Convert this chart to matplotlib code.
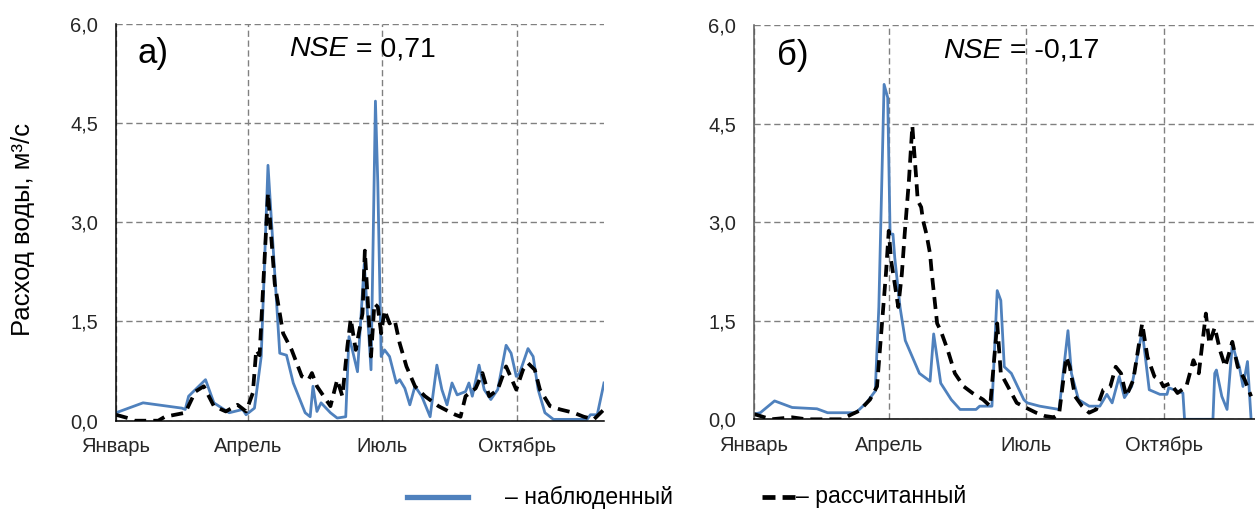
import matplotlib
matplotlib.use("Agg")
import matplotlib.pyplot as plt
from matplotlib.lines import Line2D

plt.rcParams['font.family'] = ['Liberation Sans', 'DejaVu Sans']

# ---- data (day of year, discharge m3/s) ----
obs_a_day = [0, 18.4, 44.8, 47.1, 49.4, 60.9, 66.6, 77, 86.2, 88.5, 94.2, 98.8, 103.4, 111.4, 116,
             120.6, 128.7, 132.1, 134, 136.7, 139.5, 145.9, 150.5, 156.3, 158.5, 160.8, 164.3, 168.9,
             173.5, 176.5, 178.1, 180.4, 182.7, 186.1, 190.7, 193, 196.5, 199.9, 203.4, 208, 213.7,
             218.3, 221.7, 225.2, 228.6, 232.1, 237.8, 240.1, 242.4, 247, 250.5, 255, 259.7, 265.4,
             268.8, 272.3, 274.6, 280.3, 283.8, 287.2, 291.8, 297.6, 320.5, 322.8, 327.4, 332]
obs_a_val = [0.12, 0.27, 0.19, 0.17, 0.37, 0.62, 0.27, 0.12, 0.17, 0.09, 0.19, 0.97, 3.86, 1.02, 0.99,
             0.57, 0.12, 0.06, 0.52, 0.14, 0.27, 0.12, 0.04, 0.06, 1.27, 1.07, 0.74, 2.37,
             0.77, 4.83, 3.6, 0.97, 1.07, 0.97, 0.57, 0.62, 0.49, 0.24, 0.52, 0.37, 0.06,
             0.84, 0.47, 0.24, 0.57, 0.39, 0.44, 0.57, 0.37, 0.84, 0.47, 0.32, 0.47, 1.14,
             1.02, 0.67, 0.72, 1.09, 0.97, 0.47, 0.12, 0.02, 0.02, 0.09, 0.09, 0.57]

sim_a_day = [0, 8, 12.6, 28.7, 33.3, 47.1, 54, 59.7, 66.6, 74.7, 82.7, 88.5, 93.1, 95.4, 97.7, 103.4,
             108, 113.7, 119.5, 126.4, 131, 133.3, 136.7, 145.9, 150.5, 154, 157.4, 159.7, 163.1,
             167.7, 169.3, 173.5, 175.8, 178.1, 180.4, 182.7, 186.1, 189.6, 193, 197.6, 203.4,
             210.2, 219.4, 226.3, 230.9, 234.4, 237.8, 244.7, 249.3, 253.9, 259.7, 265.4, 272.3,
             276.9, 280.3, 284.9, 288.4, 295.3, 302.2, 311.4, 318.2, 325.1, 332]
sim_a_val = [0.09, 0.04, 0.0, 0.0, 0.06, 0.12, 0.44, 0.52, 0.22, 0.14, 0.24, 0.14, 0.42, 1.07, 0.99, 3.44,
             2.07, 1.32, 1.07, 0.67, 0.62, 0.72, 0.52, 0.22, 0.62, 0.37, 1.12, 1.54, 1.07,
             1.62, 2.57, 0.97, 1.77, 1.72, 1.32, 1.67, 1.47, 1.52, 1.17, 0.82, 0.52,
             0.37, 0.22, 0.14, 0.09, 0.06, 0.37, 0.49, 0.72, 0.37, 0.47, 0.82, 0.47,
             0.77, 0.87, 0.77, 0.47, 0.22, 0.17, 0.12, 0.06, 0.02, 0.17]

obs_b_day = [0, 4.2, 13.7, 25.4, 41.9, 49, 67.8, 74.8, 80.7, 83.1, 86.6, 89, 90.6, 92.5, 93.7, 97.2,
             100.7, 105.4, 110.1, 117.2, 119.6, 124.3, 131.3, 137.2, 147.8, 150.2, 158.4, 161.9,
             164.3, 166.6, 171.3, 179.6, 181.9, 190.2, 203.1, 209, 211.3, 216, 223.1, 230.2,
             234.9, 238.4, 243.1, 246.6, 251.4, 258.4, 263.1, 270.2, 274.9, 276.1, 285.5, 286.6,
             305.5, 306.7, 307.8, 311.4, 314.9, 318.4, 320.8, 323.1, 325.5, 328.5, 330.9]
obs_b_val = [0.08, 0.10, 0.28, 0.18, 0.16, 0.10, 0.10, 0.25, 0.43, 1.71, 5.10, 4.90, 2.82, 2.82, 2.46, 1.71,
             1.20, 0.95, 0.70, 0.58, 1.30, 0.55, 0.30, 0.15, 0.15, 0.20, 0.20, 1.96,
             1.81, 0.80, 0.70, 0.30, 0.25, 0.20, 0.15, 1.35, 0.70, 0.30, 0.20, 0.20,
             0.38, 0.25, 0.65, 0.33, 0.50, 1.35, 0.45, 0.38, 0.38, 0.48, 0.40, 0.0,
             0.0, 0.70, 0.75, 0.35, 0.15, 1.15, 0.95, 0.80, 0.50, 0.88, 0.0]

sim_b_day = [0, 4.2, 11.3, 25.4, 34.8, 44.2, 58.4, 65.4, 70.1, 77.2, 81.9, 84.3, 87.8, 89.7, 91.3, 93.7,
             96, 98.4, 100.3, 103.1, 105.4, 106.6, 107.8, 109, 111.3, 112.5, 114.8, 117.2, 118.4,
             121.9, 124.3, 129, 133.7, 139.6, 145.4, 152.5, 157.2, 161.9, 164.3, 169, 174.9,
             180.7, 187.8, 193.7, 199.6, 203.1, 207.8, 210.2, 213.7, 218.4, 223.1, 227.8, 232.5,
             237.2, 240.8, 244.3, 247.8, 252.5, 258.4, 261.9, 266.6, 270.2, 272.5, 277.2, 281.9,
             287.8, 292.5, 296.1, 300.8, 303.1, 306.7, 310.2, 313.7, 318.4, 322, 326.7, 330.9]
sim_b_val = [0.08, 0.05, 0.0, 0.03, 0.0, 0.0, 0.0, 0.08, 0.13, 0.30, 0.50, 1.20, 2.21, 2.87, 2.41, 2.06,
             1.71, 2.21, 2.82, 3.63, 4.47, 4.09, 3.73, 3.33, 3.23, 3.03, 2.82, 2.52, 2.21,
             1.46, 1.35, 1.05, 0.70, 0.50, 0.40, 0.30, 0.20, 1.46, 0.70, 0.50, 0.25,
             0.18, 0.10, 0.05, 0.03, 0.08, 0.95, 0.80, 0.35, 0.20, 0.10, 0.15, 0.45,
             0.50, 0.80, 0.70, 0.35, 0.60, 1.46, 0.95, 0.65, 0.60, 0.50, 0.55, 0.40,
             0.50, 0.90, 0.70, 1.61, 1.15, 1.40, 1.05, 0.80, 1.18, 0.80, 0.60, 0.35]

month_ticks = [0, 90, 181, 273]
month_labels = ['Январь', 'Апрель', 'Июль', 'Октябрь']
y_ticks = [0.0, 1.5, 3.0, 4.5, 6.0]
y_labels = ['0,0', '1,5', '3,0', '4,5', '6,0']
panel_labels = ['а)', 'б)']
nse_values = ['0,71', '-0,17']
legend_labels = ['– наблюденный', '– рассчитанный']

W, H = 1255, 513
fig = plt.figure(figsize=(W / 100, H / 100), dpi=100)

BLUE = '#4F81BD'
GRID = '#808080'
TXT = '#262626'

axes_px = [(116, 420.7, 488, 397, 332), (754, 419.3, 501, 394, 333.5)]
data = [(obs_a_day, obs_a_val, sim_a_day, sim_a_val), (obs_b_day, obs_b_val, sim_b_day, sim_b_val)]
left_spine_colors = ['#000000', '#595959']
nse_x = [0.355, 0.377]
lab_x = [0.045, 0.046]

for i, ((x0, yb, w, h, xmax), (od, ov, sd, sv)) in enumerate(zip(axes_px, data)):
    ax = fig.add_axes([x0 / W, (H - yb) / H, w / W, h / H])
    ax.plot(od, ov, color=BLUE, lw=2.0, zorder=3, solid_joinstyle='round')
    ax.plot(sd, sv, color='black', lw=2.7, linestyle=(0, (3.2, 1.9)), zorder=4)
    ax.set_xlim(0, xmax)
    ax.set_ylim(0, 6)
    ax.set_yticks(y_ticks)
    ax.set_yticklabels(y_labels)
    ax.set_xticks(month_ticks)
    ax.set_xticklabels(month_labels)
    ax.tick_params(length=0, labelsize=14.5, colors=TXT)
    ax.tick_params(axis='y', pad=13)
    ax.tick_params(axis='x', pad=12)
    ax.grid(True, color=GRID, lw=1.0, linestyle=(0, (4.5, 2.6)), zorder=1)
    for s in ['top', 'right']:
        ax.spines[s].set_visible(False)
    ax.spines['left'].set_color(left_spine_colors[i])
    ax.spines['left'].set_linewidth(1.1)
    ax.spines['bottom'].set_color('black')
    ax.spines['bottom'].set_linewidth(1.1)
    ax.spines['left'].set_zorder(5)
    ax.spines['bottom'].set_zorder(5)
    ax.set_axisbelow(True)

    t1 = ax.text(nse_x[i], 0.918, 'NSE', transform=ax.transAxes, fontsize=20.5,
                 style='italic', ha='left', va='baseline', zorder=6)
    ax.annotate(' = ' + nse_values[i], xy=(1, 0), xycoords=t1, fontsize=20.5,
                ha='left', va='bottom', zorder=6)
    ax.text(lab_x[i], 0.90, panel_labels[i], transform=ax.transAxes, fontsize=25,
            ha='left', va='baseline', zorder=6)

fig.text(23 / W, 1 - 229 / H, 'Расход воды, м³/с', rotation=90, fontsize=18.5,
         ha='center', va='center')

# legend
ly = 1 - 497 / H
fig.add_artist(Line2D([407 / W, 468 / W], [ly, ly], transform=fig.transFigure,
                      color=BLUE, lw=3.8))
fig.text(505 / W, ly, legend_labels[0], fontsize=16.5, ha='left', va='center')
fig.add_artist(Line2D([762 / W, 795 / W], [ly, ly], transform=fig.transFigure,
                      color='black', lw=3.4, linestyle=(0, (2.75, 1.5))))
fig.text(796 / W, ly, legend_labels[1], fontsize=16.5, ha='left', va='center')

fig.savefig('out.png', dpi=100)
